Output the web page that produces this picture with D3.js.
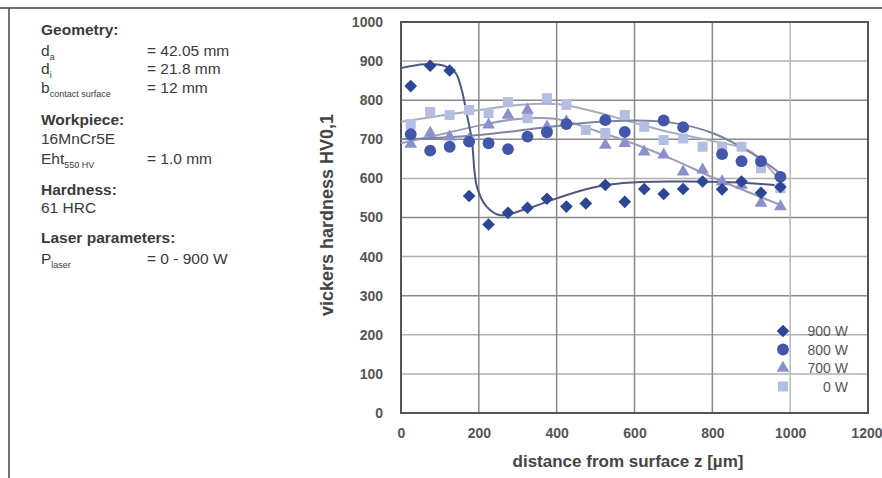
<!DOCTYPE html>
<html lang="en">
<head>
  <meta charset="UTF-8">
  <title>Vickers hardness vs distance from surface</title>
  <style>
    body { margin: 0; background: #fff; font-family: "Liberation Sans", Arial, sans-serif; }
    svg { display: block; }
    .info text { font-size: 15.5px; fill: #3a3a3a; }
    .info .head { font-weight: bold; }
    .tick text { font-size: 14px; font-weight: bold; fill: #555; }
  </style>
  <script src="https://d3js.org/d3.v7.min.js"></script>
</head>
<body>
<svg id="chart" width="882" height="478"></svg>
<script>
  // measured points, every 50 um starting at 25 um
  const depth = [25, 75, 125, 175, 225, 275, 325, 375, 425, 475, 525, 575, 625, 675, 725, 775, 825, 875, 925, 975];
  const hv900 = [836, 888, 876, 555, 482, 512, 525, 548, 528, 536, 583, 540, 573, 560, 573, 592, 572, 592, 563, 578];
  const hv800 = [713, 671, 681, 694, 690, 675, 707, 718, 739, null, 749, 719, null, 748, 731, null, 662, 644, 644, 604];
  const hv700 = [688, 716, 706, 700, 737, 762, 775, 732, 745, null, 685, 690, 668, 660, 617, 622, 592, 583, 537, 528];
  const hv0   = [739, 770, 762, 775, 767, 795, 754, 805, 788, 724, 716, 762, 732, 698, 702, 681, 681, 681, 626, 575];

  // fitted curves
  const fit900 = [[0, 882], [60, 892], [110, 888], [140, 870], [155, 830], [170, 760], [182, 698], [195, 579], [220, 528], [255, 506], [314, 519], [400, 549], [486, 575], [572, 588], [700, 592], [850, 590], [960, 583]];
  const fit800 = [[0, 700], [100, 704], [200, 711], [300, 722], [400, 734], [500, 744], [600, 748], [700, 742], [800, 716], [900, 665], [975, 612]];
  const fit700 = [[0, 690], [100, 712], [200, 735], [300, 752], [400, 752], [500, 722], [600, 688], [700, 648], [800, 603], [900, 562], [975, 532]];
  const fit0   = [[0, 745], [100, 760], [200, 775], [300, 788], [400, 790], [500, 770], [600, 742], [700, 716], [800, 696], [900, 668], [975, 592]];

  const seriesNames = ["900 W", "800 W", "700 W", "0 W"];
  const xTicks = [0, 200, 400, 600, 800, 1000, 1200];
  const yTicks = [0, 100, 200, 300, 400, 500, 600, 700, 800, 900, 1000];

  // diamond = square turned by 45 degrees
  const diamond = {
    draw(ctx, size) {
      const r = Math.sqrt(size / 2);
      ctx.moveTo(0, -r); ctx.lineTo(r, 0); ctx.lineTo(0, r); ctx.lineTo(-r, 0); ctx.closePath();
    }
  };

  const series = [
    {name: seriesNames[0], values: hv900, fit: fit900, symbol: diamond, size: 80, color: "#2d4595", line: "#4f5683"},
    {name: seriesNames[1], values: hv800, fit: fit800, symbol: d3.symbolCircle, size: 110, color: "#4257aa", line: "#7e849f"},
    {name: seriesNames[2], values: hv700, fit: fit700, symbol: d3.symbolTriangle, size: 70, color: "#8a90cb", line: "#9a9db4"},
    {name: seriesNames[3], values: hv0, fit: fit0, symbol: d3.symbolSquare, size: 100, color: "#b4bde2", line: "#a9adbe"}
  ];

  const svg = d3.select("#chart");

  // page frame lines
  svg.append("line").attr("x1", 0).attr("x2", 882).attr("y1", 8).attr("y2", 8)
    .attr("stroke", "#444").attr("stroke-width", 1.5);
  svg.append("line").attr("x1", 9).attr("x2", 9).attr("y1", 8).attr("y2", 478)
    .attr("stroke", "#444").attr("stroke-width", 1.5);

  // info block on the left
  const info = svg.append("g").attr("class", "info");
  const rows = [
    {y: 35, head: "Geometry:"},
    {y: 56, main: "d", sub: "a", val: "= 42.05 mm"},
    {y: 74, main: "d", sub: "i", val: "= 21.8 mm"},
    {y: 93, main: "b", sub: "contact surface", val: "= 12 mm"},
    {y: 125, head: "Workpiece:"},
    {y: 144, text: "16MnCr5E"},
    {y: 164, main: "Eht", sub: "550 HV", val: "= 1.0 mm"},
    {y: 195, head: "Hardness:"},
    {y: 213, text: "61 HRC"},
    {y: 243, head: "Laser parameters:"},
    {y: 264, main: "P", sub: "laser", val: "= 0 - 900 W"}
  ];
  rows.forEach(r => {
    if (r.head) info.append("text").attr("class", "head").attr("x", 41).attr("y", r.y).text(r.head);
    if (r.text) info.append("text").attr("x", 41).attr("y", r.y).text(r.text);
    if (r.main) {
      const t = info.append("text").attr("x", 41).attr("y", r.y);
      t.append("tspan").text(r.main);
      t.append("tspan").attr("dy", 4).attr("font-size", 9).text(r.sub);
      info.append("text").attr("x", 147).attr("y", r.y).text(r.val);
    }
  });

  // plot area
  const x = d3.scaleLinear().domain([0, 1200]).range([401, 868]);
  const y = d3.scaleLinear().domain([0, 1000]).range([413, 22]);

  // grid
  svg.append("g").selectAll("line").data(yTicks.slice(1, -1)).join("line")
    .attr("x1", x(0)).attr("x2", x(1200)).attr("y1", d => y(d)).attr("y2", d => y(d))
    .attr("stroke", d => (d === 300 || d === 500 || d === 700 || d === 800) ? "#8a8a8a" : "#b0b0b0")
    .attr("stroke-width", 1.5);
  svg.append("g").selectAll("line").data(xTicks.slice(1, -1)).join("line")
    .attr("x1", d => x(d)).attr("x2", d => x(d)).attr("y1", y(0)).attr("y2", y(1000))
    .attr("stroke", d => d === 1000 ? "#b8b8b8" : "#8a8a8a")
    .attr("stroke-width", 1.5);

  // frame
  svg.append("rect").attr("x", x(0)).attr("y", y(1000))
    .attr("width", x(1200) - x(0)).attr("height", y(0) - y(1000))
    .attr("fill", "none").attr("stroke", "#555").attr("stroke-width", 2);

  // axes (labels only, frame drawn above)
  const xAxis = svg.append("g").attr("transform", `translate(0,${y(0)})`)
    .call(d3.axisBottom(x).tickValues(xTicks).tickFormat(d3.format("d")).tickSize(0).tickPadding(15));
  const yAxis = svg.append("g").attr("transform", `translate(${x(0)},0)`)
    .call(d3.axisLeft(y).tickValues(yTicks).tickFormat(d3.format("d")).tickSize(0).tickPadding(18));
  xAxis.select(".domain").remove();
  yAxis.select(".domain").remove();
  // last x label sits on the page edge
  xAxis.selectAll(".tick").filter(d => d === 1200).select("text")
    .attr("text-anchor", "end").attr("dx", 14);

  svg.append("text").attr("x", 628).attr("y", 467).attr("text-anchor", "middle")
    .attr("font-size", 17).attr("font-weight", "bold").attr("fill", "#444")
    .text("distance from surface z [µm]");
  svg.append("text").attr("transform", "translate(333,215) rotate(-90)").attr("text-anchor", "middle")
    .attr("font-size", 18).attr("font-weight", "bold").attr("fill", "#444")
    .text("vickers hardness HV0,1");

  // fitted curves
  const line = d3.line().x(d => x(d[0])).y(d => y(d[1])).curve(d3.curveCatmullRom);
  series.slice().reverse().forEach(s => {
    svg.append("path").datum(s.fit).attr("d", line)
      .attr("fill", "none").attr("stroke", s.line).attr("stroke-width", 2);
  });

  // markers
  series.slice().reverse().forEach(s => {
    const pts = depth.map((d, i) => [d, s.values[i]]).filter(p => p[1] != null);
    svg.append("g").selectAll("path").data(pts).join("path")
      .attr("transform", d => `translate(${x(d[0])},${y(d[1])})`)
      .attr("d", d3.symbol().type(s.symbol).size(s.size))
      .attr("fill", s.color);
  });

  // legend
  const legend = svg.append("g");
  series.forEach((s, i) => {
    const ly = 331 + i * 18.5;
    legend.append("path").attr("transform", `translate(783,${ly})`)
      .attr("d", d3.symbol().type(s.symbol).size(s.size)).attr("fill", s.color);
    legend.append("text").attr("x", 848).attr("y", ly + 5).attr("text-anchor", "end")
      .attr("font-size", 14).attr("fill", "#555").text(s.name);
  });
</script>
</body>
</html>
